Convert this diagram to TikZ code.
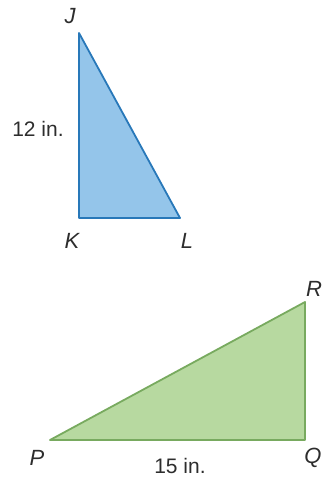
\documentclass[tikz,border=0pt]{standalone}
\usepackage{fontspec}
\setmainfont{Liberation Sans}
\definecolor{bfill}{RGB}{148,197,234}
\definecolor{bline}{RGB}{40,120,185}
\definecolor{gfill}{RGB}{183,217,160}
\definecolor{gline}{RGB}{120,170,95}
\definecolor{txt}{RGB}{45,45,45}
\begin{document}
\begin{tikzpicture}[x=1pt,y=-1pt,
  vlab/.style={text=txt,font=\fontsize{22}{22}\selectfont\itshape,inner sep=0pt},
  mlab/.style={text=txt,font=\fontsize{21}{21}\selectfont,inner sep=0pt}]
\useasboundingbox (0,0) rectangle (327,478);
\coordinate (J) at (79,33);
\coordinate (K) at (79,218);
\coordinate (L) at (180,218);
\filldraw[fill=bfill,draw=bline,line width=1.8pt,line join=round] (J) -- (K) -- (L) -- cycle;
\node[vlab] (jl) at (70,16) {J};
\node[vlab] (kl) at (72,241) {K};
\node[vlab] (ll) at (187,241) {L};
\node[mlab] (tw) at (38,129) {12 in.};
\coordinate (P) at (50,440);
\coordinate (Q) at (305,440);
\coordinate (R) at (305,302);
\filldraw[fill=gfill,draw=gline,line width=1.8pt,line join=round] (P) -- (Q) -- (R) -- cycle;
\node[vlab] (rl) at (314,289) {R};
\node[vlab] (pl) at (37,458) {P};
\node[vlab] (ql) at (313,458) {Q};
\node[mlab] (fi) at (180,466) {15 in.};
\end{tikzpicture}
\end{document}
